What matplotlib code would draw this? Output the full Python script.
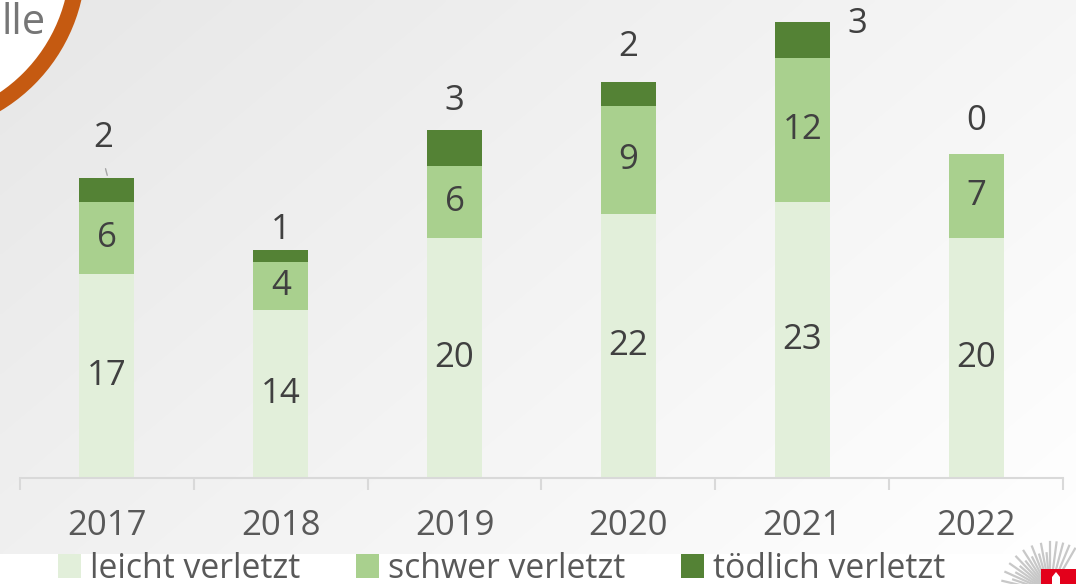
import numpy as np
import matplotlib
matplotlib.use("Agg")
import matplotlib.pyplot as plt
from matplotlib.patches import Circle, Rectangle, Polygon

years = ["2017", "2018", "2019", "2020", "2021", "2022"]
leicht = [17, 14, 20, 22, 23, 20]
schwer = [6, 4, 6, 9, 12, 7]
toedlich = [2, 1, 3, 2, 3, 0]
series_names = ["leicht verletzt", "schwer verletzt", "tödlich verletzt"]
colors = ["#E2EFDA", "#A9D08E", "#548235"]

# offsets (pixels) of the "tödlich" labels from the top of each stack
top_label_offsets = [(-4, 40), (0, 20), (0, 29), (0, 35), (55, -2), (0, 33)]

W, H = 1076, 584
plt.rcParams["font.family"] = ["Open Sans", "DejaVu Sans"]
fig = plt.figure(figsize=(W / 100, H / 100), dpi=100)

# background layer in pixel coordinates
bg = fig.add_axes([0, 0, 1, 1], zorder=0)
bg.set_xlim(0, W)
bg.set_ylim(H, 0)
bg.axis("off")
gx = np.linspace(0, 1, 300)
gy = np.linspace(0, 1, 160)
GX, GY = np.meshgrid(gx, gy)
t = np.clip(0.62 * GX + 0.38 * GY, 0, 1)
val = 0.905 + 0.095 * t
img = np.dstack([val, val, val])
bg.imshow(img, extent=(0, W, 554, 0), aspect="auto", interpolation="bilinear")

# title badge in the corner
bg.add_patch(Circle((-90, -40), 168, facecolor="white", edgecolor="#C55A11", lw=11.5))
bg.text(46, 34, "lle", ha="right", va="baseline", fontsize=30, color="#767676")

# emblem in the lower right corner
cx, cy = 1050, 592
for ang in np.linspace(95, 200, 20):
    r = np.deg2rad(ang)
    L = 50 if int(round(ang / 5.5)) % 2 == 0 else 40
    bg.plot([cx, cx + L * np.cos(r)], [cy, cy - L * np.sin(r)], color="#C8C8C8", lw=1.6,
            solid_capstyle="butt", zorder=2)
for ang in np.linspace(60, 90, 5):
    r = np.deg2rad(ang)
    bg.plot([cx, cx + 50 * np.cos(r)], [cy, cy - 50 * np.sin(r)], color="#C8C8C8", lw=1.6,
            zorder=2)
bg.add_patch(Rectangle((1041, 569), 40, 20, facecolor="#E3001B", edgecolor="none", zorder=3))
bg.add_patch(Polygon([[1052, 585], [1052, 577], [1056, 572], [1060, 577], [1060, 585]],
                     closed=True, facecolor="white", edgecolor="none", zorder=4))

# chart
px_per_unit = 12.0
ax = fig.add_axes([20 / W, (H - 478) / H, (1063 - 20) / W, 478 / H], zorder=1)
ax.patch.set_alpha(0)
ax.set_xlim(-0.5, len(years) - 0.5)
ax.set_ylim(0, 478 / px_per_unit)

x = np.arange(len(years))
bw = 0.316
b1 = ax.bar(x, leicht, bw, color=colors[0], label=series_names[0])
b2 = ax.bar(x, schwer, bw, bottom=leicht, color=colors[1], label=series_names[1])
bottom3 = [a + b for a, b in zip(leicht, schwer)]
b3 = ax.bar(x, toedlich, bw, bottom=bottom3, color=colors[2], label=series_names[2])

txt = "#404040"
fs = 25
for i in range(len(years)):
    ax.text(x[i], leicht[i] / 2, str(leicht[i]), ha="center", va="center", fontsize=fs, color=txt)
    ax.text(x[i], leicht[i] + schwer[i] / 2, str(schwer[i]), ha="center", va="center",
            fontsize=fs, color=txt)
    total = bottom3[i] + toedlich[i]
    dx, dy = top_label_offsets[i]
    ax.annotate(str(toedlich[i]), xy=(x[i], total), xytext=(dx * 0.72, dy * 0.72),
                textcoords="offset points", ha="center", va="center", fontsize=fs, color=txt)

# leader line for the first stack's top label
ax.annotate("", xy=(x[0] + 0.006, bottom3[0] + toedlich[0]),
            xytext=(x[0] - 0.012, bottom3[0] + toedlich[0] + 1.0),
            arrowprops=dict(arrowstyle="-", color="#A6A6A6", lw=1.0))

for s in ["top", "right", "left"]:
    ax.spines[s].set_visible(False)
ax.spines["bottom"].set_color("#D9D9D9")
ax.spines["bottom"].set_linewidth(1.5)
ax.set_yticks([])
ax.set_xticks(np.arange(-0.5, len(years), 1.0))
ax.set_xticklabels([])
ax.tick_params(axis="x", which="major", length=8.5, width=1.5, color="#D9D9D9", direction="out")
ax.set_xticks(x, minor=True)
ax.set_xticklabels(years, minor=True)
ax.tick_params(axis="x", which="minor", length=0, pad=22, labelsize=25, labelcolor="#595959")

handles = [b1, b2, b3]
leg = fig.legend(handles, series_names, loc="lower left", bbox_to_anchor=(44 / W, -0.026),
                 ncol=3, frameon=False, fontsize=24.3, handlelength=0.7, handleheight=0.7,
                 handletextpad=0.25, columnspacing=1.65, borderaxespad=0)
for t_ in leg.get_texts():
    t_.set_color("#595959")

fig.savefig("out.png", dpi=100)
